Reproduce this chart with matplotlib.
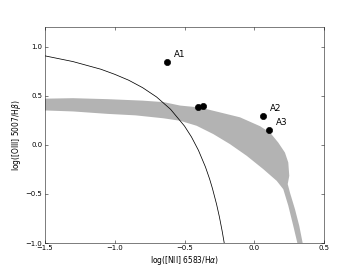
import matplotlib
matplotlib.use('Agg')
import matplotlib.pyplot as plt

# model grid band (outline): outer edge left->right->down
band_outer_x = [-1.5, -1.3, -1.05, -0.8, -0.65, -0.532, -0.389, -0.245, -0.102, 0.041, 0.113, 0.172, 0.22, 0.244, 0.251, 0.240, 0.256, 0.292, 0.323, 0.347]
band_outer_y = [0.47, 0.475, 0.465, 0.45, 0.435, 0.40, 0.38, 0.33, 0.28, 0.19, 0.125, 0.023, -0.079, -0.18, -0.316, -0.40, -0.487, -0.656, -0.827, -1.0]
# inner edge bottom->up->left
band_inner_x = [0.309, 0.28, 0.244, 0.208, 0.161, 0.065, -0.054, -0.174, -0.293, -0.413, -0.532, -0.65, -0.85, -1.05, -1.3, -1.5]
band_inner_y = [-1.0, -0.827, -0.62, -0.452, -0.367, -0.248, -0.112, 0.007, 0.109, 0.194, 0.245, 0.27, 0.30, 0.315, 0.34, 0.35]

# demarcation curve
curve_x = [-1.5, -1.3, -1.1, -1.0, -0.9, -0.8, -0.7, -0.6, -0.5, -0.45, -0.4, -0.35, -0.32, -0.3, -0.27, -0.25, -0.23, -0.215]
curve_y = [0.906, 0.848, 0.770, 0.718, 0.658, 0.582, 0.487, 0.362, 0.191, 0.080, -0.056, -0.225, -0.348, -0.443, -0.606, -0.733, -0.879, -1.002]

# observed points
obs_x = [-0.623, -0.40, -0.37, 0.06, 0.108]
obs_y = [0.847, 0.385, 0.395, 0.293, 0.156]
obs_lab = ['A1', '', '', 'A2', 'A3']

fig, ax = plt.subplots(figsize=(8, 6), dpi=45)
fig.subplots_adjust(left=0.125, right=0.9, bottom=0.1, top=0.9)

ax.fill(band_outer_x + band_inner_x, band_outer_y + band_inner_y, color='0.7', lw=0)
ax.plot(curve_x, curve_y, color='k', lw=1.2)
ax.plot(obs_x, obs_y, 'ko', ms=10)
for x, y, t in zip(obs_x, obs_y, obs_lab):
    if t:
        ax.annotate(t, (x, y), xytext=(11, 12), textcoords='offset points',
                    ha='left', va='center', fontsize=14)

ax.set_xlim(-1.5, 0.5)
ax.set_ylim(-1.0, 1.2)
ax.set_xticks([-1.5, -1.0, -0.5, 0.0, 0.5])
ax.set_yticks([-1.0, -0.5, 0.0, 0.5, 1.0])
ax.tick_params(direction='in', top=True, right=True, labelsize=11, length=5, pad=4)
ax.set_xlabel(r'log([NII] 6583/H$\alpha$)', fontsize=12)
ax.set_ylabel(r'log([OIII] 5007/H$\beta$)', fontsize=12)

fig.savefig('out.png', dpi=45)
